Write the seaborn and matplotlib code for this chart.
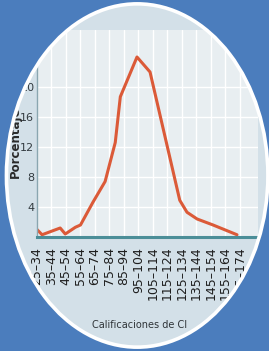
import matplotlib
matplotlib.use("Agg")
import numpy as np
import matplotlib.pyplot as plt
from matplotlib.patches import Ellipse, PathPatch
from matplotlib.path import Path
import seaborn as sns

# IQ score (bin midpoints, the curve has more points than labelled bins)
iq = [29.5, 33, 45.5, 49, 56, 59.5, 68, 76.5, 83.5, 87, 98.5, 107.5,
      128, 133, 140, 151, 167.5]
pct = [1.0, 0.3, 1.2, 0.4, 1.3, 1.6, 4.6, 7.4, 12.6, 18.7, 24.0, 22.0,
       4.9, 3.3, 2.4, 1.6, 0.3]

bins = ["25–34", "35–44", "45–54", "55–64", "65–74", "75–84", "85–94",
        "95–104", "105–114", "115–124", "125–134", "135–144", "145–154",
        "155–164", "165–174"]
bin_mid = [29.5 + 10 * i for i in range(len(bins))]
y_ticks = [4, 8, 12, 16, 20]

sns.set_style("white")

blue = "#4b7dbd"
cx, cy, w, h = 0.51, 0.5, 0.972, 0.978

fig = plt.figure(figsize=(2.69, 3.51), dpi=100)
fig.patch.set_facecolor(blue)

# background oval
bg = fig.add_axes([0, 0, 1, 1])
bg.axis("off")
bg.add_patch(Ellipse((cx, cy), w, h, transform=bg.transAxes,
                     facecolor="#d3e0e8", edgecolor="none"))

ax = fig.add_axes([37 / 269, 114 / 351, 221 / 269, 207 / 351])
ax.set_facecolor("#e8eef1")

sns.lineplot(x=iq, y=pct, ax=ax, color="#db5a38", linewidth=2.2, sort=False)

ax.set_xlim(29.5, 182)
ax.set_ylim(0, 27.6)
ax.set_xticks(bin_mid)
ax.set_xticklabels(bins, rotation=90, fontsize=9, color="#1e1e1e",
                   va="top", ha="center")
ax.set_yticks(y_ticks)
ax.set_yticklabels([str(v) for v in y_ticks], fontsize=8, color="#333b40")
ax.tick_params(length=0, pad=2)
ax.tick_params(axis="x", pad=7)

ax.grid(True, color="white", linewidth=1.0)
ax.set_axisbelow(True)

for side in ["top", "right"]:
    ax.spines[side].set_visible(False)
ax.spines["bottom"].set_color("#4b8e98")
ax.spines["bottom"].set_linewidth(2.2)
ax.spines["left"].set_color("#8aa6b0")
ax.spines["left"].set_linewidth(1.0)

ax.set_ylabel("Porcentaje", fontsize=8.5, fontweight="bold", color="#2a2a2a")
ax.yaxis.label.set_rotation_mode("default")
ax.yaxis.label.set_va("bottom")
ax.yaxis.label.set_ha("center")
ax.yaxis.set_label_coords(-0.10, (237 - 178) / 207)
ax.set_xlabel("Calificaciones de CI", fontsize=7, color="#2f3438")
ax.xaxis.set_label_coords(0.465, -0.40)

# blue mask outside the oval, then the white rim
top = fig.add_axes([0, 0, 1, 1], zorder=10)
top.axis("off")
top.set_xlim(0, 1)
top.set_ylim(0, 1)
t = np.linspace(0, 2 * np.pi, 400)
ring = np.column_stack([cx + w / 2 * np.cos(-t), cy + h / 2 * np.sin(-t)])
rect = np.array([[-0.1, -0.1], [1.1, -0.1], [1.1, 1.1], [-0.1, 1.1], [-0.1, -0.1]])
verts = np.vstack([rect, ring])
codes = ([Path.MOVETO] + [Path.LINETO] * 3 + [Path.CLOSEPOLY]
         + [Path.MOVETO] + [Path.LINETO] * (len(ring) - 2) + [Path.CLOSEPOLY])
top.add_patch(PathPatch(Path(verts, codes), facecolor=blue, edgecolor="none"))
top.add_patch(Ellipse((cx, cy), w, h, facecolor="none", edgecolor="white",
                      linewidth=2.6))

fig.savefig("out.png", dpi=100, facecolor=fig.get_facecolor())
